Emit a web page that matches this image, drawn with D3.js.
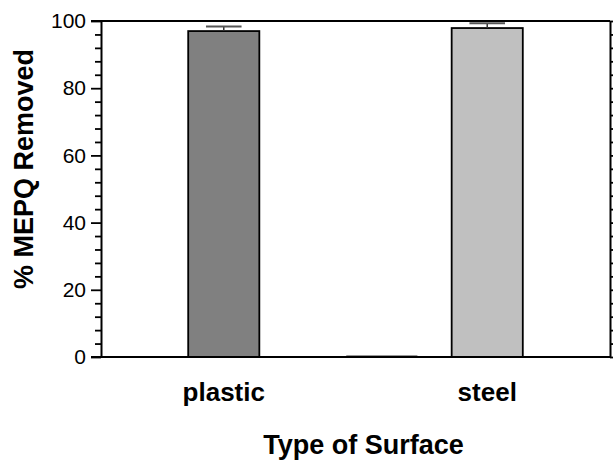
<!DOCTYPE html>
<html>
<head>
<meta charset="utf-8">
<script src="https://cdn.jsdelivr.net/npm/d3@7"></script>
<style>
  html, body { margin: 0; padding: 0; background: #fff; }
  svg { display: block; font-family: "Liberation Sans", Arial, sans-serif; }
</style>
</head>
<body>
<svg id="chart" width="613" height="460"></svg>
<script>
// ---- data ----
const categories = ["plastic", "", "steel"];
const removed = [97.0, 0, 97.9];
const errors = [1.4, 0, 1.4];
const yTicks = [0, 20, 40, 60, 80, 100];
const xTitle = "Type of Surface";
const yTitle = "% MEPQ Removed";

(function () {
// ---- layout ----
const mLeft = 101, mRight = 610, mTop = 21, mBottom = 357;
const slotOf = d3.scaleOrdinal().domain(categories).range([0, 3, 5]);
const fills = d3.scaleOrdinal().domain(categories).range(["#808080", "#c0c0c0", "#c0c0c0"]);
const x = d3.scaleLinear().domain([-2.33, 7.33]).range([mLeft, mRight]);
const barW = x(1.35) - x(0);
const y = d3.scaleLinear().domain([0, 100]).range([mBottom, mTop]);

const svg = d3.select("#chart");
const data = categories.map((c, i) => ({ c, v: removed[i], e: errors[i] }));

// bars
data.forEach(d => {
  const cx = x(slotOf(d.c));
  if (d.v > 0) {
    svg.append("rect")
      .attr("x", cx - barW / 2).attr("y", y(d.v))
      .attr("width", barW).attr("height", y(0) - y(d.v))
      .attr("fill", fills(d.c)).attr("stroke", "#000").attr("stroke-width", 1.8);
  } else {
    svg.append("line")
      .attr("x1", cx - barW / 2).attr("x2", cx + barW / 2)
      .attr("y1", y(0) - 1.3).attr("y2", y(0) - 1.3)
      .attr("stroke", "#808080").attr("stroke-width", 1);
  }
});

// error bars
data.filter(d => d.e > 0).forEach(d => {
  const cx = x(slotOf(d.c));
  svg.append("line").attr("x1", cx).attr("x2", cx)
    .attr("y1", y(d.v)).attr("y2", y(d.v + d.e))
    .attr("stroke", "#333").attr("stroke-width", 1.5);
  svg.append("line").attr("x1", cx - barW / 4).attr("x2", cx + barW / 4)
    .attr("y1", y(d.v + d.e)).attr("y2", y(d.v + d.e))
    .attr("stroke", "#555").attr("stroke-width", 2);
});

// minor ticks
const minor = d3.range(0, 101, 4).filter(v => v % 20 !== 0);

// left axis
const gL = svg.append("g").attr("transform", `translate(${mLeft},0)`)
  .call(d3.axisLeft(y).tickValues(yTicks).tickSize(10).tickSizeOuter(0).tickPadding(5));
gL.select(".domain").attr("stroke-width", 2);
gL.selectAll(".tick line").attr("stroke-width", 1.8);
gL.selectAll(".tick text").attr("font-size", 21).attr("fill", "#000")
  .attr("font-family", "'Liberation Sans', Arial, sans-serif");
svg.append("g").attr("transform", `translate(${mLeft},0)`)
  .call(d3.axisLeft(y).tickValues(minor).tickSize(6).tickFormat(""))
  .call(g => g.select(".domain").remove())
  .selectAll(".tick line").attr("stroke-width", 1.8);

// right axis
const gR = svg.append("g").attr("transform", `translate(${mRight},0)`)
  .call(d3.axisRight(y).tickValues(yTicks).tickSize(10).tickSizeOuter(0).tickFormat(""));
gR.select(".domain").attr("stroke-width", 2);
gR.selectAll(".tick line").attr("stroke-width", 1.8);
svg.append("g").attr("transform", `translate(${mRight},0)`)
  .call(d3.axisRight(y).tickValues(minor).tickSize(6).tickFormat(""))
  .call(g => g.select(".domain").remove())
  .selectAll(".tick line").attr("stroke-width", 1.8);

// top and bottom frame
svg.append("line").attr("x1", mLeft - 10).attr("x2", mRight).attr("y1", mTop).attr("y2", mTop)
  .attr("stroke", "#000").attr("stroke-width", 2);
svg.append("line").attr("x1", mLeft - 10).attr("x2", mRight).attr("y1", mBottom).attr("y2", mBottom)
  .attr("stroke", "#000").attr("stroke-width", 2);

// category labels
data.filter(d => d.c !== "").forEach(d => {
  svg.append("text").attr("x", x(slotOf(d.c))).attr("y", 401)
    .attr("text-anchor", "middle").attr("font-size", 26).attr("font-weight", "bold")
    .text(d.c);
});

// axis titles
svg.append("text").attr("x", (mLeft + mRight) / 2 + 8).attr("y", 454)
  .attr("text-anchor", "middle").attr("font-size", 27).attr("font-weight", "bold")
  .text(xTitle);
svg.append("text").attr("transform", `translate(33,169) rotate(-90)`)
  .attr("text-anchor", "middle").attr("font-size", 27).attr("font-weight", "bold")
  .text(yTitle);
})();
</script>
</body>
</html>
